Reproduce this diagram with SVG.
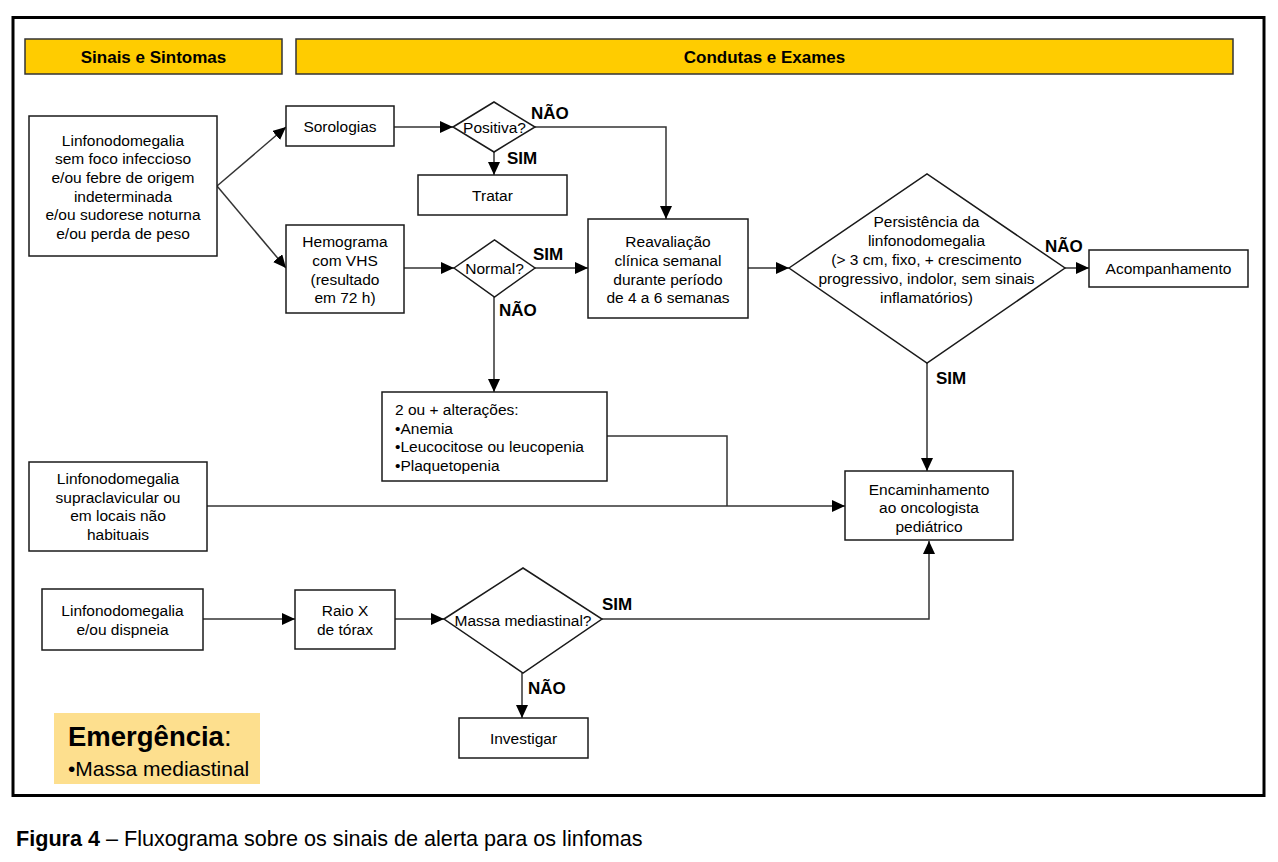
<svg xmlns="http://www.w3.org/2000/svg" width="1278" height="862" viewBox="0 0 1278 862">
<style>
.box{fill:#fff;stroke:#1a1a1a;stroke-width:1.5}
.hdr{fill:#FFCC00;stroke:#333;stroke-width:1.5}
.t{font-family:"Liberation Sans",Arial,sans-serif;font-size:15.5px;fill:#000}
.c{text-anchor:middle}
.h{font-family:"Liberation Sans",Arial,sans-serif;font-size:17px;font-weight:bold;fill:#000;text-anchor:middle}
.lbl{font-family:"Liberation Sans",Arial,sans-serif;font-size:17px;font-weight:bold;fill:#000}
.con{fill:none;stroke:#333;stroke-width:1.5}
.arr{marker-end:url(#ah)}
</style>
<defs>
<marker id="ah" markerUnits="userSpaceOnUse" markerWidth="14" markerHeight="13" refX="13" refY="6" orient="auto">
<path d="M0,0 L13,6 L0,12 z" fill="#000"/>
</marker>
</defs>
<rect x="0" y="0" width="1278" height="862" fill="#fff"/>
<rect x="13" y="17.5" width="1251" height="778" fill="none" stroke="#000" stroke-width="3"/>

<g id="hdr-sinais">
<rect class="hdr" x="25" y="39" width="257" height="35"/>
<text class="h" x="153.5" y="63">Sinais e Sintomas</text>
</g>
<g id="hdr-condutas">
<rect class="hdr" x="296" y="39" width="937" height="35"/>
<text class="h" x="764.5" y="63">Condutas e Exames</text>
</g>

<g id="connectors">
<line class="con arr" x1="217" y1="186" x2="286" y2="127"/>
<line class="con arr" x1="217" y1="186" x2="286" y2="268"/>
<line class="con arr" x1="394" y1="127" x2="453" y2="127"/>
<line class="con arr" x1="494" y1="152" x2="494" y2="175"/>
<path class="con arr" d="M535,127 H666 V219"/>
<line class="con arr" x1="404" y1="268" x2="454" y2="268"/>
<line class="con arr" x1="535" y1="268" x2="588" y2="268"/>
<line class="con arr" x1="494" y1="297" x2="494" y2="392"/>
<line class="con arr" x1="748" y1="268" x2="789" y2="268"/>
<line class="con arr" x1="1065" y1="268" x2="1089" y2="268"/>
<line class="con arr" x1="927" y1="363" x2="927" y2="471"/>
<path class="con" d="M607,436 H727 V506"/>
<line class="con arr" x1="207" y1="506" x2="845" y2="506"/>
<line class="con arr" x1="203" y1="619" x2="295" y2="619"/>
<line class="con arr" x1="395" y1="619" x2="444" y2="619"/>
<path class="con arr" d="M602,619 H929 V541"/>
<line class="con arr" x1="522" y1="673" x2="522" y2="718"/>
<text class="lbl" x="531" y="119">NÃO</text>
<text class="lbl" x="507" y="164">SIM</text>
<text class="lbl" x="533" y="260">SIM</text>
<text class="lbl" x="499" y="316">NÃO</text>
<text class="lbl" x="1045" y="252">NÃO</text>
<text class="lbl" x="936" y="384">SIM</text>
<text class="lbl" x="602" y="610">SIM</text>
<text class="lbl" x="528" y="694">NÃO</text>
</g>

<g id="n-sintomas1">
<rect class="box" x="29" y="116" width="188" height="140"/>
<text class="t c" x="123" y="145.5">Linfonodomegalia<tspan x="123" dy="18.7">sem foco infeccioso</tspan><tspan x="123" dy="18.7">e/ou febre de origem</tspan><tspan x="123" dy="18.7">indeterminada</tspan><tspan x="123" dy="18.7">e/ou sudorese noturna</tspan><tspan x="123" dy="18.7">e/ou perda de peso</tspan></text>
</g>
<g id="n-sorologias">
<rect class="box" x="286" y="106" width="108" height="40"/>
<text class="t c" x="340" y="131.5">Sorologias</text>
</g>
<g id="n-positiva">
<polygon class="box" points="453,127 494,102 535,127 494,152"/>
<text class="t c" x="494.5" y="132.5">Positiva?</text>
</g>
<g id="n-tratar">
<rect class="box" x="418" y="175" width="149" height="40"/>
<text class="t c" x="492.5" y="200.5">Tratar</text>
</g>
<g id="n-hemograma">
<rect class="box" x="286" y="225" width="118" height="88"/>
<text class="t c" x="345" y="247">Hemograma<tspan x="345" dy="18.8">com VHS</tspan><tspan x="345" dy="18.8">(resultado</tspan><tspan x="345" dy="18.8">em 72 h)</tspan></text>
</g>
<g id="n-normal">
<polygon class="box" points="454,268 494.5,240 535,268 494.5,297"/>
<text class="t c" x="494.5" y="273.5">Normal?</text>
</g>
<g id="n-reavaliacao">
<rect class="box" x="588" y="219" width="160" height="99"/>
<text class="t c" x="668" y="247">Reavaliação<tspan x="668" dy="18.8">clínica semanal</tspan><tspan x="668" dy="18.8">durante período</tspan><tspan x="668" dy="18.8">de 4 a 6 semanas</tspan></text>
</g>
<g id="n-persistencia">
<polygon class="box" points="789,268 927,174 1065,268 927,363"/>
<text class="t c" x="926.5" y="227">Persistência da<tspan x="926.5" dy="19">linfonodomegalia</tspan><tspan x="926.5" dy="19">(&gt; 3 cm, fixo, + crescimento</tspan><tspan x="926.5" dy="19">progressivo, indolor, sem sinais</tspan><tspan x="926.5" dy="19">inflamatórios)</tspan></text>
</g>
<g id="n-acompanhamento">
<rect class="box" x="1089" y="250" width="159" height="37"/>
<text class="t c" x="1168.5" y="273.5">Acompanhamento</text>
</g>
<g id="n-alteracoes">
<rect class="box" x="382" y="392" width="225" height="89"/>
<text class="t" x="395" y="415">2 ou + alterações:<tspan x="395" dy="18.7">•Anemia</tspan><tspan x="395" dy="18.7">•Leucocitose ou leucopenia</tspan><tspan x="395" dy="18.7">•Plaquetopenia</tspan></text>
</g>
<g id="n-supraclavicular">
<rect class="box" x="29" y="462" width="178" height="89"/>
<text class="t c" x="118" y="484">Linfonodomegalia<tspan x="118" dy="18.7">supraclavicular ou</tspan><tspan x="118" dy="18.7">em locais não</tspan><tspan x="118" dy="18.7">habituais</tspan></text>
</g>
<g id="n-encaminhamento">
<rect class="box" x="845" y="471" width="168" height="69"/>
<text class="t c" x="929" y="494.8">Encaminhamento<tspan x="929" dy="18.6">ao oncologista</tspan><tspan x="929" dy="18.6">pediátrico</tspan></text>
</g>
<g id="n-dispneia">
<rect class="box" x="42" y="589" width="161" height="61"/>
<text class="t c" x="122.5" y="615.5">Linfonodomegalia<tspan x="122.5" dy="19">e/ou dispneia</tspan></text>
</g>
<g id="n-raiox">
<rect class="box" x="295" y="590" width="100" height="59"/>
<text class="t c" x="345" y="615.5">Raio X<tspan x="345" dy="19">de tórax</tspan></text>
</g>
<g id="n-massa">
<polygon class="box" points="444,619 523,568 602,619 523,673"/>
<text class="t c" x="523" y="625.5">Massa mediastinal?</text>
</g>
<g id="n-investigar">
<rect class="box" x="459" y="718" width="129" height="40"/>
<text class="t c" x="523.5" y="743.5">Investigar</text>
</g>

<g id="n-emergencia">
<rect x="54" y="713" width="206" height="71" fill="#FDDF8E"/>
<text x="68" y="746" font-family="Liberation Sans, Arial, sans-serif" font-size="27.5" fill="#000"><tspan font-weight="bold">Emergência</tspan>:</text>
<text x="68" y="776" font-family="Liberation Sans, Arial, sans-serif" font-size="21" fill="#000">•Massa mediastinal</text>
</g>

<text x="16" y="846" font-family="Liberation Sans, Arial, sans-serif" font-size="21.6" fill="#000"><tspan font-weight="bold">Figura 4</tspan> – Fluxograma sobre os sinais de alerta para os linfomas</text>
</svg>
